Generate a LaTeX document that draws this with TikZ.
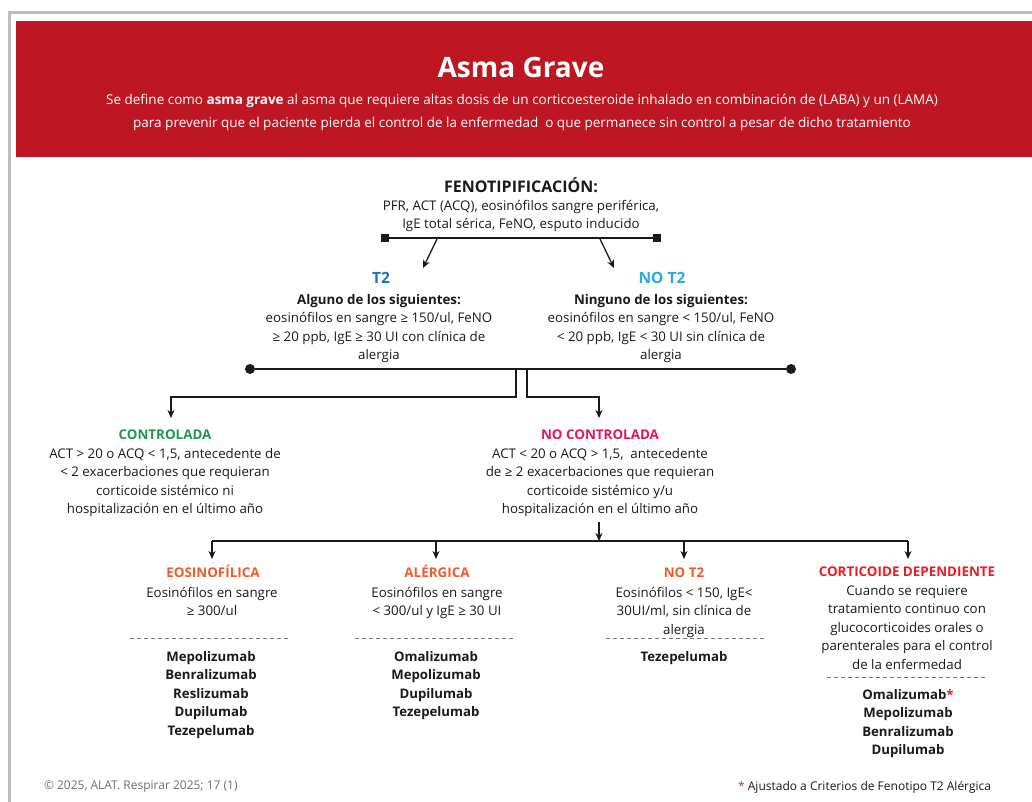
\documentclass[tikz,border=0pt]{standalone}
\usepackage{fontspec}
\setmainfont{Open Sans}
\usetikzlibrary{arrows.meta}
\definecolor{hdrred}{HTML}{BE1622}
\definecolor{framegray}{HTML}{BDBDBD}
\definecolor{txtcol}{HTML}{1A1A1A}
\definecolor{tblue}{HTML}{1B75BB}
\definecolor{ntblue}{HTML}{27A9E1}
\definecolor{cgreen}{HTML}{1C9A4A}
\definecolor{ncred}{HTML}{E0185A}
\definecolor{orng}{HTML}{F15A29}
\definecolor{cred}{HTML}{ED1C24}
\definecolor{footgray}{HTML}{6D6D6D}
\definecolor{dashgray}{HTML}{777777}
\begin{document}
\begin{tikzpicture}[x=1pt,y=-1pt,
  every node/.style={inner sep=0pt, outer sep=0pt},
  body/.style={align=center, anchor=north, text=txtcol, font=\fontsize{13.3}{18.5}\selectfont},
  head/.style={anchor=north, font=\bfseries\fontsize{13.4}{18.5}\selectfont},
  drugs/.style={align=center, anchor=north, text=txtcol, font=\bfseries\fontsize{13.2}{18.5}\selectfont},
  conn/.style={line width=1.3pt, draw=txtcol},
  arr/.style={conn, -{Stealth[length=8pt,width=7pt,inset=2.5pt]}},
  sqr/.style={fill=txtcol, minimum size=8pt, inner sep=0pt},
  dot/.style={circle, fill=txtcol, minimum size=10pt, inner sep=0pt},
  sep/.style={draw=dashgray, line width=0.8pt, dash pattern=on 4pt off 3pt}
]
\useasboundingbox (0,0) rectangle (1032,802);
% frame and header
\draw[framegray, line width=3pt] (9.5,802) -- (9.5,13) -- (1032,13);
\fill[hdrred] (16,21) rectangle (1032,157);
\node[text=white, font=\bfseries\fontsize{28}{32}\selectfont] (title) at (521,68) {Asma Grave};
\node[text=white, align=center, font=\fontsize{13.5}{23}\selectfont] (sub) at (522,112)
  {Se define como \textbf{asma grave} al asma que requiere altas dosis de un corticoesteroide inhalado en combinación de (LABA) y un (LAMA)\\
   para prevenir que el paciente pierda el control de la enfermedad\ \ o que permanece sin control a pesar de dicho tratamiento};

% fenotipificacion
\node[head, text=txtcol, font=\bfseries\fontsize{16}{18.5}\selectfont] (fenh) at (521,178) {FENOTIPIFICACIÓN:};
\node[body] (fenb) at (521,200) {PFR, ACT (ACQ), eosinófilos sangre periférica,\\IgE total sérica, FeNO, esputo inducido};
\node[sqr] (sqL) at (385,238) {};
\node[sqr] (sqR) at (657,238) {};
\draw[conn] (sqL) -- (sqR);
\coordinate (a1s) at (437,239); \coordinate (a1e) at (423,268);
\coordinate (a2s) at (600,239); \coordinate (a2e) at (614,268);
\draw[arr] (a1s) -- (a1e);
\draw[arr] (a2s) -- (a2e);

% T2 / NO T2
\node[head, text=tblue, font=\bfseries\fontsize{15.5}{18.5}\selectfont] (t2h) at (381,272) {T2};
\node[body] (t2b) at (379,294) {{\bfseries Alguno de los siguientes:}\\eosinófilos en sangre ≥ 150/ul, FeNO\\≥ 20 ppb, IgE ≥ 30 UI con clínica de\\alergia};
\node[head, text=ntblue, font=\bfseries\fontsize{15.5}{18.5}\selectfont] (nt2h) at (662,272) {NO T2};
\node[body] (nt2b) at (661,294) {{\bfseries Ninguno de los siguientes:}\\eosinófilos en sangre < 150/ul, FeNO\\< 20 ppb, IgE < 30 UI sin clínica de\\alergia};

\node[dot] (dL) at (250,369) {};
\node[dot] (dR) at (791,369) {};
\draw[conn] (dL) -- (dR);
\coordinate (b1) at (516,369); \coordinate (b1e) at (171,418);
\coordinate (b2) at (527,369); \coordinate (b2e) at (599,418);
\draw[arr] (b1) -- (516,397) -| (b1e);
\draw[arr] (b2) -- (527,397) -| (b2e);

% controlada / no controlada
\node[head, text=cgreen] (ch) at (165,430) {CONTROLADA};
\node[body] (cb) at (165,448) {ACT > 20 o ACQ < 1,5, antecedente de\\< 2 exacerbaciones que requieran\\corticoide sistémico ni\\hospitalización en el último año};
\node[head, text=ncred] (nch) at (600,430) {NO CONTROLADA};
\node[body] (ncb) at (600,448) {ACT < 20 o ACQ > 1,5,\ \ antecedente\\de ≥ 2 exacerbaciones que requieran\\corticoide sistémico y/u\\hospitalización en el último año};

\coordinate (c0) at (599,522);
\coordinate (hl) at (212,541); \coordinate (hr) at (908,541);
\draw[arr] (c0) -- (599,541);
\draw[conn] (hl) -- (hr);
\coordinate (e1) at (212,559); \coordinate (e2) at (436,559);
\coordinate (e3) at (684,559); \coordinate (e4) at (908,559);
\draw[arr] (hl) -- (e1);
\draw[arr] (436,541) -- (e2);
\draw[arr] (684,541) -- (e3);
\draw[arr] (hr) -- (e4);

% bottom columns
\node[head, text=orng] (eoh) at (213,565) {EOSINOFÍLICA};
\node[body] (eob) at (212,587) {Eosinófilos en sangre\\≥ 300/ul};
\draw[sep] (130,638) -- (291,638);
\node[drugs] (eod) at (211,651) {Mepolizumab\\Benralizumab\\Reslizumab\\Dupilumab\\Tezepelumab};

\node[head, text=orng] (alh) at (437,565) {ALÉRGICA};
\node[body] (alb) at (437,587) {Eosinófilos en sangre\\< 300/ul y IgE ≥ 30 UI};
\draw[sep] (355,638) -- (516,638);
\node[drugs] (ald) at (436,651) {Omalizumab\\Mepolizumab\\Dupilumab\\Tezepelumab};

\node[head, text=orng] (nth) at (684,568) {NO T2};
\node[body] (ntb) at (684,587) {Eosinófilos < 150, IgE<\\30UI/ml, sin clínica de\\alergia};
\draw[sep] (606,638) -- (767,638);
\node[drugs] (ntd) at (684,651) {Tezepelumab};

\node[head, text=cred] (coh) at (907,567) {CORTICOIDE DEPENDIENTE};
\node[body] (cob) at (907,585) {Cuando se requiere\\tratamiento continuo con\\glucocorticoides orales o\\parenterales para el control\\de la enfermedad};
\draw[sep] (827,677) -- (988,677);
\node[drugs] (cod) at (908,689) {Omalizumab\textcolor{cred}{*}\\Mepolizumab\\Benralizumab\\Dupilumab};

% footer
\node[anchor=west, text=footgray, font=\fontsize{12}{14}\selectfont] (fl) at (44,787) {© 2025, ALAT. Respirar 2025; 17 (1)};
\node[anchor=east, text=txtcol, font=\fontsize{12}{14}\selectfont] (fr) at (991,787) {\textcolor{cred}{*} Ajustado a Criterios de Fenotipo T2 Alérgica};
\end{tikzpicture}
\end{document}
